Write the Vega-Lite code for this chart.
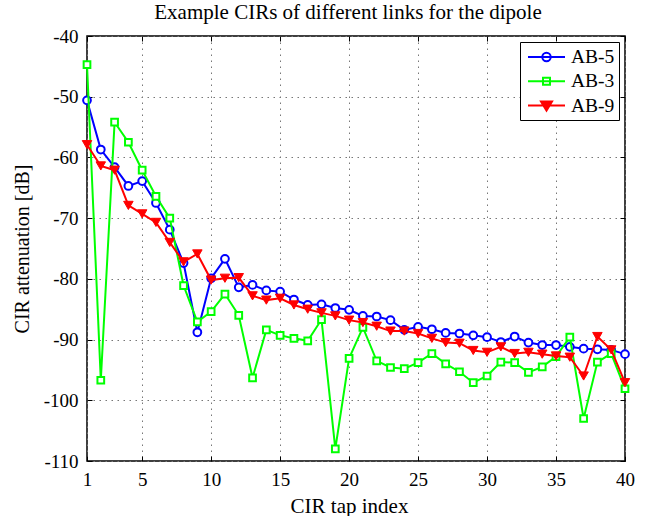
{
  "$schema": "https://vega.github.io/schema/vega-lite/v6.json",
  "width": 538,
  "height": 425,
  "autosize": {"type": "none"},
  "padding": {"left": 87, "top": 36, "right": 21, "bottom": 55},
  "background": "white",
  "title": {
    "text": "Example CIRs of different links for the dipole",
    "font": "Liberation Serif",
    "fontSize": 21,
    "fontWeight": "normal",
    "color": "black",
    "offset": 4,
    "dx": -8
  },
  "config": {
    "view": {"stroke": "black", "strokeWidth": 1.5},
    "axis": {
      "labelFont": "Liberation Serif",
      "labelFontSize": 19,
      "labelColor": "black",
      "titleFont": "Liberation Serif",
      "titleFontWeight": "normal",
      "titleColor": "black",
      "domainColor": "black",
      "tickColor": "black",
      "gridColor": "#777777",
      "gridDash": [1.5, 4.5],
      "gridWidth": 1,
      "gridOpacity": 1
    },
    "legend": {
      "labelFont": "Liberation Serif",
      "labelFontSize": 19.5,
      "labelColor": "black"
    }
  },
  "data": {"values": [
    {"tap":1,"link":"AB-5","v":-50.6},{"tap":2,"link":"AB-5","v":-58.7},{"tap":3,"link":"AB-5","v":-61.6},{"tap":4,"link":"AB-5","v":-64.7},{"tap":5,"link":"AB-5","v":-63.9},
    {"tap":6,"link":"AB-5","v":-67.5},{"tap":7,"link":"AB-5","v":-71.9},{"tap":8,"link":"AB-5","v":-77.4},{"tap":9,"link":"AB-5","v":-88.8},{"tap":10,"link":"AB-5","v":-79.9},
    {"tap":11,"link":"AB-5","v":-76.7},{"tap":12,"link":"AB-5","v":-81.4},{"tap":13,"link":"AB-5","v":-81.0},{"tap":14,"link":"AB-5","v":-81.9},{"tap":15,"link":"AB-5","v":-82.1},
    {"tap":16,"link":"AB-5","v":-83.4},{"tap":17,"link":"AB-5","v":-84.3},{"tap":18,"link":"AB-5","v":-84.2},{"tap":19,"link":"AB-5","v":-84.8},{"tap":20,"link":"AB-5","v":-85.1},
    {"tap":21,"link":"AB-5","v":-86.1},{"tap":22,"link":"AB-5","v":-86.2},{"tap":23,"link":"AB-5","v":-86.8},{"tap":24,"link":"AB-5","v":-88.4},{"tap":25,"link":"AB-5","v":-87.9},
    {"tap":26,"link":"AB-5","v":-88.3},{"tap":27,"link":"AB-5","v":-88.9},{"tap":28,"link":"AB-5","v":-89.0},{"tap":29,"link":"AB-5","v":-89.3},{"tap":30,"link":"AB-5","v":-89.6},
    {"tap":31,"link":"AB-5","v":-90.4},{"tap":32,"link":"AB-5","v":-89.5},{"tap":33,"link":"AB-5","v":-90.5},{"tap":34,"link":"AB-5","v":-90.9},{"tap":35,"link":"AB-5","v":-90.9},
    {"tap":36,"link":"AB-5","v":-91.2},{"tap":37,"link":"AB-5","v":-91.5},{"tap":38,"link":"AB-5","v":-91.6},{"tap":39,"link":"AB-5","v":-91.7},{"tap":40,"link":"AB-5","v":-92.4},
    {"tap":1,"link":"AB-3","v":-44.7},{"tap":2,"link":"AB-3","v":-96.7},{"tap":3,"link":"AB-3","v":-54.2},{"tap":4,"link":"AB-3","v":-57.5},{"tap":5,"link":"AB-3","v":-62.1},
    {"tap":6,"link":"AB-3","v":-66.4},{"tap":7,"link":"AB-3","v":-70.0},{"tap":8,"link":"AB-3","v":-81.1},{"tap":9,"link":"AB-3","v":-87.1},{"tap":10,"link":"AB-3","v":-85.4},
    {"tap":11,"link":"AB-3","v":-82.5},{"tap":12,"link":"AB-3","v":-86.0},{"tap":13,"link":"AB-3","v":-96.3},{"tap":14,"link":"AB-3","v":-88.4},{"tap":15,"link":"AB-3","v":-89.3},
    {"tap":16,"link":"AB-3","v":-89.8},{"tap":17,"link":"AB-3","v":-90.2},{"tap":18,"link":"AB-3","v":-86.7},{"tap":19,"link":"AB-3","v":-108.0},{"tap":20,"link":"AB-3","v":-93.1},
    {"tap":21,"link":"AB-3","v":-88.0},{"tap":22,"link":"AB-3","v":-93.5},{"tap":23,"link":"AB-3","v":-94.6},{"tap":24,"link":"AB-3","v":-94.8},{"tap":25,"link":"AB-3","v":-93.8},
    {"tap":26,"link":"AB-3","v":-92.3},{"tap":27,"link":"AB-3","v":-94.0},{"tap":28,"link":"AB-3","v":-95.3},{"tap":29,"link":"AB-3","v":-97.1},{"tap":30,"link":"AB-3","v":-96.0},
    {"tap":31,"link":"AB-3","v":-93.7},{"tap":32,"link":"AB-3","v":-93.8},{"tap":33,"link":"AB-3","v":-95.4},{"tap":34,"link":"AB-3","v":-94.5},{"tap":35,"link":"AB-3","v":-92.8},
    {"tap":36,"link":"AB-3","v":-89.6},{"tap":37,"link":"AB-3","v":-103.0},{"tap":38,"link":"AB-3","v":-93.7},{"tap":39,"link":"AB-3","v":-92.3},{"tap":40,"link":"AB-3","v":-98.1},
    {"tap":1,"link":"AB-9","v":-57.9},{"tap":2,"link":"AB-9","v":-61.4},{"tap":3,"link":"AB-9","v":-62.1},{"tap":4,"link":"AB-9","v":-67.9},{"tap":5,"link":"AB-9","v":-69.3},
    {"tap":6,"link":"AB-9","v":-70.7},{"tap":7,"link":"AB-9","v":-74.0},{"tap":8,"link":"AB-9","v":-77.2},{"tap":9,"link":"AB-9","v":-75.9},{"tap":10,"link":"AB-9","v":-80.2},
    {"tap":11,"link":"AB-9","v":-79.9},{"tap":12,"link":"AB-9","v":-79.8},{"tap":13,"link":"AB-9","v":-82.8},{"tap":14,"link":"AB-9","v":-83.5},{"tap":15,"link":"AB-9","v":-83.2},
    {"tap":16,"link":"AB-9","v":-84.3},{"tap":17,"link":"AB-9","v":-85.0},{"tap":18,"link":"AB-9","v":-85.6},{"tap":19,"link":"AB-9","v":-86.1},{"tap":20,"link":"AB-9","v":-86.8},
    {"tap":21,"link":"AB-9","v":-87.2},{"tap":22,"link":"AB-9","v":-87.8},{"tap":23,"link":"AB-9","v":-88.6},{"tap":24,"link":"AB-9","v":-88.6},{"tap":25,"link":"AB-9","v":-89.0},
    {"tap":26,"link":"AB-9","v":-89.8},{"tap":27,"link":"AB-9","v":-90.5},{"tap":28,"link":"AB-9","v":-90.6},{"tap":29,"link":"AB-9","v":-91.8},{"tap":30,"link":"AB-9","v":-92.1},
    {"tap":31,"link":"AB-9","v":-91.2},{"tap":32,"link":"AB-9","v":-92.3},{"tap":33,"link":"AB-9","v":-92.1},{"tap":34,"link":"AB-9","v":-92.4},{"tap":35,"link":"AB-9","v":-92.7},
    {"tap":36,"link":"AB-9","v":-92.9},{"tap":37,"link":"AB-9","v":-96.0},{"tap":38,"link":"AB-9","v":-89.5},{"tap":39,"link":"AB-9","v":-91.7},{"tap":40,"link":"AB-9","v":-97.1}
  ]},
  "resolve": {"axis": {"x": "independent", "y": "independent"}},
  "layer": [
    {
      "transform": [{"filter": "datum.link === 'AB-5'"}],
      "mark": {"type": "line", "color": "#0000ff", "strokeWidth": 2,
        "point": {"shape": "circle", "filled": true, "fill": "white", "stroke": "#0000ff", "strokeWidth": 2, "size": 60}},
      "encoding": {
        "x": {"field": "tap", "type": "quantitative",
          "scale": {"domain": [1, 40], "nice": false, "zero": false},
          "axis": {"orient": "bottom", "title": "CIR tap index", "titleFontSize": 21, "titleX": 262, "values": [1,5,10,15,20,25,30,35,40],
            "grid": true, "tickSize": -5, "labelPadding": 14, "titlePadding": 6, "domain": false, "labelFlush": false}},
        "y": {"field": "v", "type": "quantitative",
          "scale": {"domain": [-110, -40], "nice": false, "zero": false},
          "axis": {"orient": "left", "title": "CIR attenuation [dB]", "titleFontSize": 20, "values": [-110,-100,-90,-80,-70,-60,-50,-40],
            "labelExpr": "'' + datum.value", "grid": true, "tickSize": -5, "labelPadding": 14, "titlePadding": 11, "domain": false}}
      }
    },
    {
      "transform": [{"filter": "datum.link === 'AB-3'"}],
      "mark": {"type": "line", "color": "#00ff00", "strokeWidth": 2,
        "point": {"shape": "square", "filled": true, "fill": "white", "stroke": "#00ff00", "strokeWidth": 2, "size": 45}},
      "encoding": {
        "x": {"field": "tap", "type": "quantitative", "axis": null},
        "y": {"field": "v", "type": "quantitative", "axis": null}
      }
    },
    {
      "transform": [{"filter": "datum.link === 'AB-9'"}],
      "mark": {"type": "line", "color": "#ff0000", "strokeWidth": 2,
        "point": {"shape": "triangle-down", "filled": true, "fill": "#ff0000", "stroke": "#ff0000", "strokeWidth": 1, "size": 90}},
      "encoding": {
        "x": {"field": "tap", "type": "quantitative", "axis": null},
        "y": {"field": "v", "type": "quantitative", "axis": null}
      }
    },
    {
      "mark": {"type": "point", "filled": true, "strokeWidth": 2, "opacity": 0},
      "encoding": {
        "x": {"field": "tap", "type": "quantitative",
          "axis": {"orient": "top", "title": null, "labels": false, "grid": false, "tickSize": -5, "domain": false, "values": [1,5,10,15,20,25,30,35,40]}},
        "y": {"field": "v", "type": "quantitative",
          "axis": {"orient": "right", "title": null, "labels": false, "grid": false, "tickSize": -5, "domain": false, "values": [-110,-100,-90,-80,-70,-60,-50,-40]}},
        "fill": {"field": "link", "type": "nominal",
          "scale": {"domain": ["AB-5", "AB-3", "AB-9"], "range": ["white", "white", "#ff0000"]},
          "legend": {"title": null, "orient": "top-right", "offset": 6, "padding": 4,
            "strokeColor": "black", "fillColor": "white", "symbolSize": 400, "symbolStrokeWidth": 2,
            "rowPadding": 3.3, "labelOffset": 25, "symbolOpacity": 1}},
        "stroke": {"field": "link", "type": "nominal",
          "scale": {"domain": ["AB-5", "AB-3", "AB-9"], "range": ["#0000ff", "#00ff00", "#ff0000"]}},
        "shape": {"field": "link", "type": "nominal",
          "scale": {"domain": ["AB-5", "AB-3", "AB-9"], "range": [
            "M-0.7,0H3M0.73,0A0.42,0.42 0 1,0 1.57,0A0.42,0.42 0 1,0 0.73,0",
            "M-0.7,0H3M0.8,-0.35H1.5V0.35H0.8Z",
            "M-0.7,0H3M0.6,-0.4H1.7L1.15,0.5ZM0.79,-0.3H1.51L1.15,0.29ZM0.98,-0.19H1.32L1.15,0.08ZM1.15,-0.35V0.3"
          ]}}
      }
    }
  ]
}
